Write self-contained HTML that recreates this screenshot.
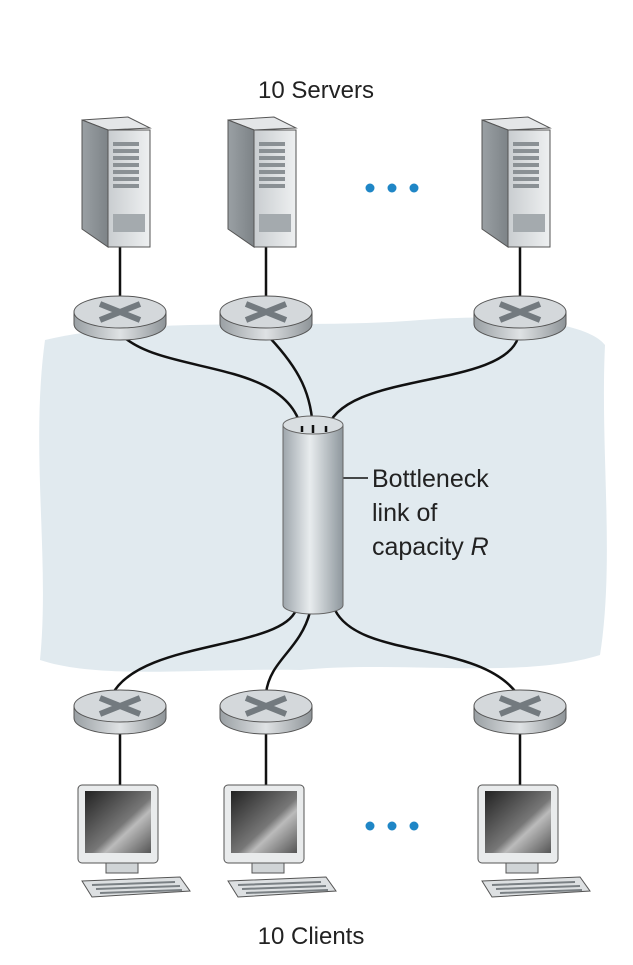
<!DOCTYPE html>
<html><head><style>body{margin:0;background:#fff}svg{display:block}</style></head><body>
<svg width="633" height="965" viewBox="0 0 633 965" xmlns="http://www.w3.org/2000/svg" font-family="Liberation Sans, sans-serif">
<defs>
<linearGradient id="srvF" x1="0" x2="1"><stop offset="0" stop-color="#c9cdd0"/><stop offset="1" stop-color="#eef0f1"/></linearGradient>
<linearGradient id="srvS" x1="0" x2="1"><stop offset="0" stop-color="#9aa0a4"/><stop offset="1" stop-color="#7d8387"/></linearGradient>
<linearGradient id="rt" x1="0" x2="1"><stop offset="0" stop-color="#9aa0a4"/><stop offset=".5" stop-color="#dfe2e4"/><stop offset="1" stop-color="#8e9498"/></linearGradient>
<linearGradient id="cyl" x1="0" x2="1"><stop offset="0" stop-color="#9ea6ac"/><stop offset=".45" stop-color="#e8ecee"/><stop offset="1" stop-color="#8e979d"/></linearGradient>
<linearGradient id="scr" x1="0" y1="0" x2="1" y2="1"><stop offset="0" stop-color="#222"/><stop offset=".55" stop-color="#777"/><stop offset=".65" stop-color="#bbb"/><stop offset="1" stop-color="#555"/></linearGradient>
<g id="server">
<polygon points="-38,-72 8,-75 30,-64 -12,-62" fill="#e4e6e8" stroke="#555" stroke-width="1"/>
<polygon points="-38,-72 -12,-62 -12,55 -38,37" fill="url(#srvS)" stroke="#555" stroke-width="1"/>
<rect x="-12" y="-62" width="42" height="117" fill="url(#srvF)" stroke="#555" stroke-width="1"/>
<g fill="#8a9094">
<rect x="-7" y="-50" width="26" height="4"/><rect x="-7" y="-43" width="26" height="4"/><rect x="-7" y="-36" width="26" height="4"/><rect x="-7" y="-29" width="26" height="4"/><rect x="-7" y="-22" width="26" height="4"/><rect x="-7" y="-15" width="26" height="4"/><rect x="-7" y="-8" width="26" height="4"/>
<rect x="-7" y="22" width="32" height="18" fill="#a4aaae"/></g>
</g>
<g id="router">
<path d="M-46,0 v12 a46,16 0 0 0 92,0 v-12" fill="url(#rt)" stroke="#555"/>
<ellipse cx="0" cy="0" rx="46" ry="16" fill="#d4d8db" stroke="#555"/>
<path d="M-20,-8 L20,8 M20,-8 L-20,8" stroke="#737a7f" stroke-width="6"/>
</g>
<g id="client">
<rect x="-42" y="0" width="80" height="78" rx="4" fill="#e9ebec" stroke="#555"/>
<rect x="-35" y="6" width="66" height="62" fill="url(#scr)"/>
<path d="M-14,78 h32 v10 h-32z" fill="#d0d4d6" stroke="#555"/>
<polygon points="-38,96 60,92 70,106 -28,112" fill="#dde0e2" stroke="#555"/>
<path d="M-28,100 L55,97 M-24,104 L60,101 M-20,108 L62,105" stroke="#7a8084" stroke-width="2"/>
</g>
</defs>
<path d="M45,340 C150,315 300,330 420,320 C520,312 590,325 605,345 C600,450 615,560 600,655 C520,680 400,660 300,670 C200,668 100,680 40,660 C50,560 30,450 45,340Z" fill="#e1eaef"/>
<text x="316" y="98" font-size="24" text-anchor="middle" fill="#222">10 Servers</text>
<g fill="#1f86c6"><circle cx="370" cy="188" r="4.5"/><circle cx="392" cy="188" r="4.5"/><circle cx="414" cy="188" r="4.5"/>
<circle cx="370" cy="826" r="4.5"/><circle cx="392" cy="826" r="4.5"/><circle cx="414" cy="826" r="4.5"/></g>
<g stroke="#111" stroke-width="2.5" fill="none">
<path d="M120,247 V300 M266,247 V300 M520,247 V300"/>
<path d="M120,722 V785 M266,722 V785 M520,722 V785"/>
<path d="M125,338 C170,375 290,360 302,432"/>
<path d="M270,338 C300,370 312,395 313,432"/>
<path d="M518,338 C500,390 340,370 326,432"/>
<path d="M296,610 C280,650 140,640 112,695"/>
<path d="M310,612 C300,650 270,660 266,693"/>
<path d="M335,610 C360,660 480,640 518,695"/>
<path d="M335,478 H368" stroke-width="1.5"/>
</g>
<path d="M283,425 V605 A30,9 0 0 0 343,605 V425" fill="url(#cyl)" stroke="#666"/>
<ellipse cx="313" cy="425" rx="30" ry="9" fill="#d9dee1" stroke="#666"/>
<path d="M302,432 v-6 M313,433 v-8 M326,432 v-6" stroke="#111" stroke-width="2.5"/>
<use href="#server" x="120" y="192"/><use href="#server" x="266" y="192"/><use href="#server" x="520" y="192"/>
<use href="#router" x="120" y="312"/><use href="#router" x="266" y="312"/><use href="#router" x="520" y="312"/>
<use href="#router" x="120" y="706"/><use href="#router" x="266" y="706"/><use href="#router" x="520" y="706"/>
<use href="#client" x="120" y="785"/><use href="#client" x="266" y="785"/><use href="#client" x="520" y="785"/>
<g font-size="25" fill="#222"><text x="372" y="487">Bottleneck</text><text x="372" y="521">link of</text><text x="372" y="555">capacity <tspan font-style="italic">R</tspan></text></g>
<text x="311" y="944" font-size="24" text-anchor="middle" fill="#222">10 Clients</text>
</svg></body></html>
